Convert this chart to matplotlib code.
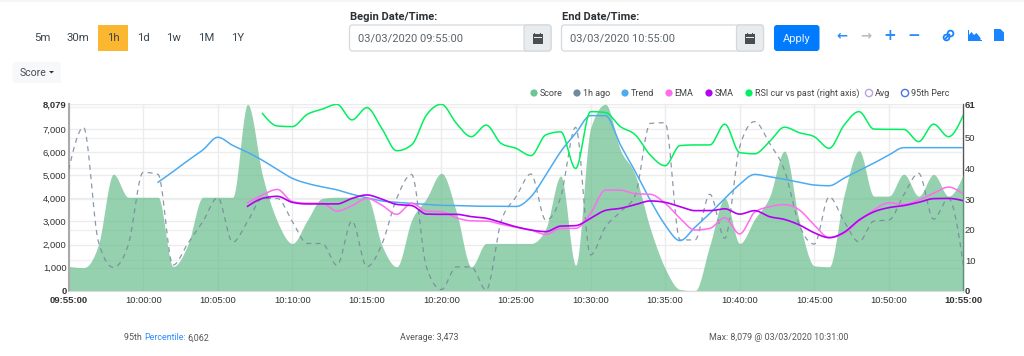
import numpy as np
import matplotlib
matplotlib.use("Agg")
import matplotlib.pyplot as plt
from matplotlib.patches import FancyBboxPatch, Rectangle, Polygon, Circle

plt.rcParams['font.family'] = ['Roboto', 'DejaVu Sans']

score = [1050,1000,2000,5050,4050,4050,4050,1050,2000,4050,4050,4050,8079,5000,3000,2050,3050,4000,4050,4050,
         4050,1980,1040,3060,4000,5090,3420,1040,2050,2050,2050,2050,2700,4970,1110,7040,8079,6100,5010,2700,
         970,50,0,1980,4000,2050,3100,4070,6050,3000,1080,1040,4150,6070,4100,4100,5050,4100,5040,4100,5040]
ago = [5230,7080,2120,1010,1980,5130,5040,1110,2050,2990,4030,2100,3000,4000,4000,3000,2050,2050,1100,3020,
       1040,2000,4000,5040,1010,50,1030,1030,30,3000,4070,5060,3060,4070,7080,1550,2770,3420,4150,7250,
       7280,2200,2200,4180,2270,6240,7330,6390,5230,2850,2020,4070,3000,2120,3020,3060,4150,5090,3100,4000,1110]
trend = [4700,5160,5640,6100,6650,6300,6000,5650,5250,4870,4650,4500,4370,4180,4030,3890,3830,3790,3740,3700,
         3690,3670,3660,3660,3650,4070,5010,6030,6820,7590,7590,6320,5160,3930,2850,2170,2750,3350,4000,4610,
         5040,4940,4830,4700,4580,4550,4880,5200,5530,5880,6200,6200,6200,6200,6200]
ema = [3810,4150,4390,3860,3790,3790,3450,3680,4000,3710,3310,3790,3450,3420,3160,3030,3020,2880,2750,2630,
       2440,2700,2700,3350,4360,4360,4200,4180,3790,3140,2630,2700,3160,2460,3400,3640,3730,3500,2850,2300,
       2490,3020,3500,3810,3740,3930,4220,4490,4180]
sma = [3660,4000,4090,3830,3760,3760,3760,4000,4150,3970,3740,3690,3320,3310,3310,3210,3140,2960,2770,2630,
       2560,2800,2820,3140,3480,3570,3730,3890,3830,3640,3470,3470,3550,3320,3470,3210,3090,2850,2510,2300,
       2530,3060,3420,3600,3690,3830,3990,4000,3900]
rsi = [58,53.9,53.7,57.7,59.4,61,55.9,59.9,53.1,45.8,47.7,57.5,61,54.8,50.4,54.2,48.2,46.6,44.2,51,
       52,40,58.6,58.3,53.7,51,44.4,40.9,47.5,47.7,47.7,54.5,45.2,44.8,48.8,53.5,51.7,50.4,46.6,54.2,
       58.6,52.9,52.8,52.8,48.8,54.5,50.4,57.5]

time_labels = ["09:55:00","10:00:00","10:05:00","10:10:00","10:15:00","10:20:00","10:25:00",
               "10:30:00","10:35:00","10:40:00","10:45:00","10:50:00","10:55:00"]
left_ticks = [0,1000,2000,3000,4000,5000,6000,7000,8079]
right_ticks = [0,10,20,30,40,50,60,61]
right_labels = ["0","10","20","30","40","50","","61"]
range_buttons = ["5m","30m","1h","1d","1w","1M","1Y"]
legend_names = ["Score","1h ago","Trend","EMA","SMA","RSI cur vs past (right axis)","Avg","95th Perc"]
legend_colors = ["#6cc592","#6f8a9c","#4dabf0","#ff6cf0","#b300f0","#00f060","#b9a3e3","#4a74e8"]


def smooth(x0, values, n=24):
    """Draw-time monotone cubic through the read values, as the original chart library does."""
    y = np.asarray(values, float)
    x = np.arange(len(y)) + x0
    s = np.diff(y)
    m = np.zeros_like(y)
    for i in range(1, len(y) - 1):
        if s[i-1] * s[i] > 0:
            m[i] = np.sign(s[i]) * min(2*abs(s[i-1]), 2*abs(s[i]), 0.5*abs(s[i-1] + s[i]))
    m[0] = (3 * s[0] - m[1]) / 2
    m[-1] = (3 * s[-1] - m[-2]) / 2
    xs, ys = [], []
    t = np.linspace(0, 1, n, endpoint=False)
    for i in range(len(s)):
        h00 = 2*t**3 - 3*t**2 + 1
        h10 = t**3 - 2*t**2 + t
        h01 = -2*t**3 + 3*t**2
        h11 = t**3 - t**2
        xs.append(x[i] + t)
        ys.append(h00*y[i] + h10*m[i] + h01*y[i+1] + h11*m[i+1])
    xs.append([x[-1]]); ys.append([y[-1]])
    return np.concatenate(xs), np.concatenate(ys)


W, H = 1024, 356
fig = plt.figure(figsize=(W/100, H/100), dpi=100, facecolor="white")

L, R, T, B = 68.6, 963.4, 104.3, 290.7
ax = fig.add_axes([L/W, 1-B/H, (R-L)/W, (B-T)/H])
ax2 = ax.twinx()   # right-axis ticks and grid, under the area
ax3 = ax.twinx()   # right-axis line, over the area
ax2.set_zorder(1); ax.set_zorder(2); ax3.set_zorder(3)
ax.patch.set_visible(False); ax2.patch.set_visible(False); ax3.patch.set_visible(False)

ax.set_xlim(0, 60); ax.set_ylim(0, 8079); ax2.set_ylim(0, 61); ax3.set_ylim(0, 61)
ax3.axis("off")
xt = np.arange(0, 61, 5)
ax.set_xticks(xt); ax.set_xticklabels(time_labels)
ax.set_yticks(left_ticks); ax.set_yticklabels([f"{v:,}" for v in left_ticks])
ax2.set_yticks(right_ticks); ax2.set_yticklabels(right_labels)

ax.grid(True, axis="both", color="#ececec", lw=1.0)
ax2.grid(True, axis="y", color="#f0f0f0", lw=1.0)
ax.set_axisbelow(True)

tick_font = dict(family="Liberation Sans", fontsize=6.8, color="#333333")
for lab in ax.get_xticklabels() + ax.get_yticklabels() + ax2.get_yticklabels():
    lab.set(**tick_font)
for group in (ax.get_xticklabels(), ax.get_yticklabels(), ax2.get_yticklabels()):
    group[0].set_fontweight("bold"); group[-1].set_fontweight("bold")
ax.tick_params(axis="y", length=0, pad=1.5)
ax.tick_params(axis="x", length=0, pad=4)
ax2.tick_params(axis="y", length=0, pad=1)

for a in (ax, ax2):
    a.spines["top"].set_visible(False)
    a.spines["bottom"].set_color("#dddddd"); a.spines["bottom"].set_linewidth(0.8)
ax.spines["right"].set_visible(False); ax2.spines["left"].set_visible(False)
ax.spines["left"].set_color("#aaaaaa"); ax.spines["left"].set_linewidth(1.5)
ax2.spines["right"].set_color("#555555"); ax2.spines["right"].set_linewidth(1.0)

sx, sy = smooth(0, score)
ax.fill_between(sx, 0, np.clip(sy, 0, None), color="#5fba86", alpha=0.66, lw=0, zorder=2)
ax.plot(*smooth(0, ago), color="#77879a", lw=0.9, ls=(0, (4, 3.5)), alpha=0.85, zorder=3)
ax.plot(*smooth(6, trend), color="#4dabf0", lw=1.1, zorder=4)
ax.plot(*smooth(12, ema), color="#ff6cf0", lw=1.1, zorder=5)
ax.plot(*smooth(12, sma), color="#b300f0", lw=1.2, zorder=6)
ax3.plot(*smooth(13, rsi), color="#00f060", lw=1.1, zorder=7)

# page furniture, in pixel coordinates
ui = fig.add_axes([0, 0, 1, 1], zorder=5)
ui.set_xlim(0, W); ui.set_ylim(H, 0); ui.axis("off"); ui.patch.set_visible(False)
ui.add_patch(Rectangle((0, 0), W, 2, color="#f6f6f6", lw=0))

btn_x = [42, 78, 113, 143, 173.5, 206, 238]
ui.add_patch(Rectangle((97.5, 25), 30.5, 26, color="#fbb730", lw=0))
for x, s in zip(btn_x, range_buttons):
    ui.text(x, 38.3, s, ha="center", va="center", fontsize=8.2, color="#3a4650")

ui.add_patch(FancyBboxPatch((12.7, 62), 48.3, 21, boxstyle="round,pad=0,rounding_size=2", fc="#f7f8f9", ec="none"))
ui.text(19.4, 72.7, "Score", ha="left", va="center", fontsize=7.6, color="#444d55")
ui.add_patch(Polygon([[49, 71], [54, 71], [51.5, 73.5]], closed=True, fc="#333333", ec="none"))


def date_box(x0, x1, label, value):
    ui.text(x0, 17, label, ha="left", va="center", fontsize=8.0, fontweight="bold", color="#2b3035")
    ui.add_patch(FancyBboxPatch((x0, 25), x1-x0, 26, boxstyle="round,pad=0,rounding_size=3", fc="white", ec="#d5d9dd", lw=0.9))
    ui.add_patch(FancyBboxPatch((x1-27, 25), 27, 26, boxstyle="round,pad=0,rounding_size=3", fc="#e9ecef", ec="#d5d9dd", lw=0.9))
    ui.text(x0+8.7, 38.7, value, ha="left", va="center", fontsize=8.0, color="#5b646c")
    cx = x1-13.5
    ui.add_patch(Rectangle((cx-5, 34), 10, 9.5, fc="#4a4f54", ec="none"))
    ui.add_patch(Rectangle((cx-4, 37.4), 8, 0.9, fc="#e9ecef", ec="none"))
    ui.add_patch(Rectangle((cx-3.4, 32.6), 1.2, 2.4, fc="#4a4f54", ec="none"))
    ui.add_patch(Rectangle((cx+2.2, 32.6), 1.2, 2.4, fc="#4a4f54", ec="none"))


date_box(349.5, 551, "Begin Date/Time:", "03/03/2020 09:55:00")
date_box(561.5, 763.5, "End Date/Time:", "03/03/2020 10:55:00")

ui.add_patch(FancyBboxPatch((774, 25), 45.5, 26, boxstyle="round,pad=0,rounding_size=3", fc="#007bff", ec="none"))
ui.text(796.8, 38.5, "Apply", ha="center", va="center", fontsize=8.0, color="#e8f2ff")

sym = dict(ha="center", va="center", family="DejaVu Sans", fontweight="bold")
ui.text(842, 35.5, "\u2190", fontsize=9.5, color="#2d8cff", **sym)
ui.text(866, 35.5, "\u2192", fontsize=9.5, color="#b5b9bd", **sym)
ui.text(889.5, 35.5, "+", fontsize=11, color="#2d8cff", **sym)
ui.text(913.5, 35.5, "\u2212", fontsize=11, color="#2d8cff", **sym)

# link icon
ui.plot([945.5, 949.5], [38.5, 34.5], color="#1a85ff", lw=1.4, solid_capstyle="round")
ui.add_patch(Circle((946.5, 37.5), 2.9, fc="none", ec="#1a85ff", lw=1.3))
ui.add_patch(Circle((950.5, 33.5), 2.9, fc="none", ec="#1a85ff", lw=1.3))
# area-chart icon
ui.add_patch(Polygon([[969, 40], [969, 35], [971.5, 32], [974, 35], [976.5, 33], [980.5, 38], [980.5, 40]],
                     closed=True, fc="#1a85ff", ec="none"))
ui.add_patch(Rectangle((968, 30), 1, 11, fc="#1a85ff", ec="none"))
ui.add_patch(Rectangle((968, 40), 14, 1, fc="#1a85ff", ec="none"))
# file icon
ui.add_patch(Polygon([[994, 29], [1000.5, 29], [1004, 32.5], [1004, 41], [994, 41]], closed=True, fc="#1a85ff", ec="none"))

leg_mark = [534, 577, 625, 669, 709, 749, 869, 905]
leg_text = [539.5, 583, 631, 674.5, 715, 755, 875, 911]
for i, (mx, tx, name, col) in enumerate(zip(leg_mark, leg_text, legend_names, legend_colors)):
    hollow = i >= 6
    ui.add_patch(Circle((mx, 93), 3.6, fc="white" if hollow else col, ec=col, lw=1.0 if hollow else 0))
    ui.text(tx, 93.2, name, ha="left", va="center", fontsize=6.5, color="#444444", family="Roboto")

foot = dict(va="center", fontsize=6.4, color="#555555", family="Roboto")
ui.text(124, 338, "95th ", ha="left", **foot)
ui.text(144.5, 338, "Percentile:", ha="left", va="center", fontsize=6.4, color="#2d8cff", family="Roboto")
ui.text(187.5, 338, "6,062", ha="left", **foot)
ui.text(400.5, 338, "Average: 3,473", ha="left", **foot)
ui.text(709, 338, "Max: 8,079 @ 03/03/2020 10:31:00", ha="left", **foot)

fig.savefig("out.png", dpi=100, facecolor="white")
